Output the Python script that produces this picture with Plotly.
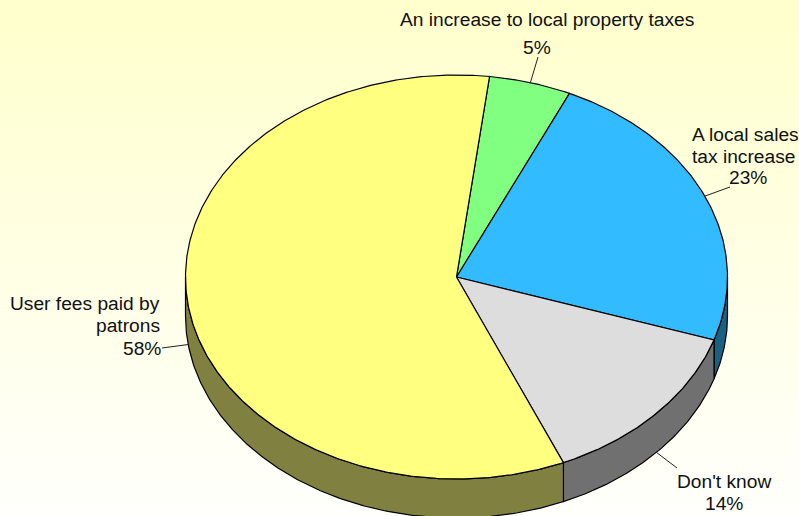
import numpy as np
import plotly.graph_objects as go

# Data
categories = ["An increase to local property taxes", "A local sales tax increase", "Don't know", "User fees paid by patrons"]
values = [4.9, 23.2, 13.5, 58.4]
top_colors = ["#80FF80", "#33BBFF", "#DDDDDD", "#FFFF80"]
side_colors = ["#408040", "#1A6080", "#707070", "#808040"]

# Label layout: one entry per text line (text, x, y, anchor)
label_lines = [
    ("An increase to local property taxes", 547, 19, "center"),
    ("5%", 537, 47, "center"),
    ("A local sales", 799, 134, "right"),
    ("tax increase", 795, 156, "right"),
    ("23%", 748, 177, "center"),
    ("User fees paid by", 160, 303, "right"),
    ("patrons", 160, 325, "right"),
    ("58%", 161, 348, "right"),
    ("Don't know", 724, 481, "center"),
    ("14%", 724, 503, "center"),
]
leader_ends = [(538, 57), (730, 187), (677, 468), (162, 348)]
leader_on_side = [False, False, True, True]

W, H = 799, 516
CX, CY, RX, RY, DEPTH = 456.5, 277, 271, 202, 39
START = 7.0


def rim(a0, a1, drop=0.0, n=None):
    n = n or max(2, int(abs(a1 - a0)) * 2 + 2)
    a = np.radians(np.linspace(a0, a1, n))
    return CX + RX * np.sin(a), CY - RY * np.cos(a) + drop


fig = go.Figure()
# page background gradient
fig.add_trace(go.Scatter(
    x=[0, W, W, 0, 0], y=[0, 0, H, H, 0], mode="none", fill="toself",
    fillgradient=dict(type="vertical", colorscale=[[0, "#FFFFFC"], [1, "#FFFFCC"]]),
    hoverinfo="skip", showlegend=False))

angles = START + np.concatenate([[0], np.cumsum(values)]) * 3.6

# side walls (only the part facing the viewer)
for i in range(len(values)):
    lo, hi = max(angles[i], 90), min(angles[i + 1], 270)
    if hi <= lo:
        continue
    x1, y1 = rim(lo, hi)
    x2, y2 = rim(hi, lo, DEPTH)
    fig.add_trace(go.Scatter(
        x=np.r_[x1, x2, x1[0]], y=np.r_[y1, y2, y1[0]], mode="lines", fill="toself",
        fillcolor=side_colors[i], line=dict(color="black", width=1.2),
        hoverinfo="skip", showlegend=False))

# top face
for i in range(len(values)):
    x1, y1 = rim(angles[i], angles[i + 1])
    fig.add_trace(go.Scatter(
        x=np.r_[CX, x1, CX], y=np.r_[CY, y1, CY], mode="lines", fill="toself",
        fillcolor=top_colors[i], line=dict(color="black", width=1.2),
        name=categories[i], hoverinfo="name", showlegend=False))

# leader lines
for i in range(len(values)):
    mid = (angles[i] + angles[i + 1]) / 2
    x1, y1 = rim(mid, mid, DEPTH if leader_on_side[i] else 0, 2)
    fig.add_trace(go.Scatter(
        x=[x1[0], leader_ends[i][0]], y=[y1[0], leader_ends[i][1]], mode="lines",
        line=dict(color="#222222", width=1), hoverinfo="skip", showlegend=False))

for text, x, y, anchor in label_lines:
    fig.add_annotation(x=x, y=y, text=text, xanchor=anchor, yanchor="middle", showarrow=False,
                       borderpad=0, borderwidth=0,
                       font=dict(family="Liberation Sans, Arial, sans-serif", size=19.2, color="#111111"))

fig.update_layout(
    width=W, height=H, margin=dict(l=0, r=0, t=0, b=0), showlegend=False,
    paper_bgcolor="#FFFFE6", plot_bgcolor="#FFFFE6",
    xaxis=dict(range=[0, W], visible=False, fixedrange=True),
    yaxis=dict(range=[H, 0], visible=False, fixedrange=True),
)
fig.write_html("out.html", config=dict(displayModeBar=False),
               post_script="document.body.style.margin='0';document.body.style.overflow='hidden';")
